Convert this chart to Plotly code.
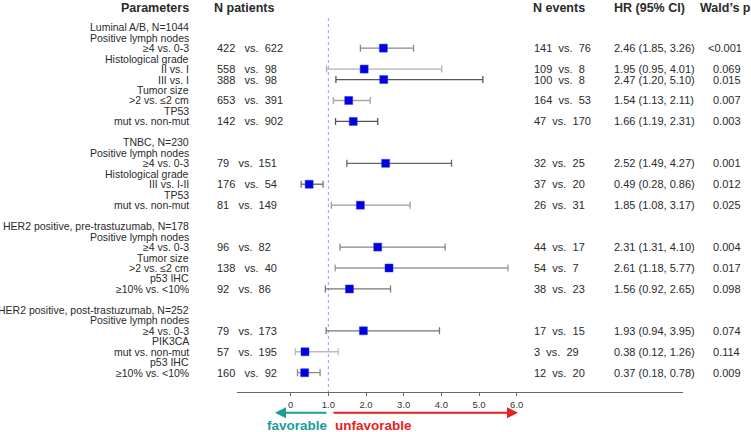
import plotly.graph_objects as go

# ---------------- data ----------------
groups = ["Luminal A/B, N=1044", "TNBC, N=230",
          "HER2 positive, pre-trastuzumab, N=178", "HER2 positive, post-trastuzumab, N=252"]
row_group = [0, 0, 0, 0, 0, 1, 1, 1, 2, 2, 2, 3, 3, 3]
row_variable = ["Positive lymph nodes", "Histological grade", "", "Tumor size", "TP53",
                "Positive lymph nodes", "Histological grade", "TP53",
                "Positive lymph nodes", "Tumor size", "p53 IHC",
                "Positive lymph nodes", "PIK3CA", "p53 IHC"]
row_comparison = ["\u22654 vs. 0-3", "II vs. I", "III vs. I", ">2 vs. \u22642 cm", "mut vs. non-mut",
                  "\u22654 vs. 0-3", "III vs. I-II", "mut vs. non-mut",
                  "\u22654 vs. 0-3", ">2 vs. \u22642 cm", "\u226510% vs. <10%",
                  "\u22654 vs. 0-3", "mut vs. non-mut", "\u226510% vs. <10%"]
n_pat_a = [422, 558, 388, 653, 142, 79, 176, 81, 96, 138, 92, 79, 57, 160]
n_pat_b = [622, 98, 98, 391, 902, 151, 54, 149, 82, 40, 86, 173, 195, 92]
n_evt_a = [141, 109, 100, 164, 47, 32, 37, 26, 44, 54, 38, 17, 3, 12]
n_evt_b = [76, 8, 8, 53, 170, 25, 20, 31, 17, 7, 23, 15, 29, 20]
hr = [2.46, 1.95, 2.47, 1.54, 1.66, 2.52, 0.49, 1.85, 2.31, 2.61, 1.56, 1.93, 0.38, 0.37]
ci_lo = [1.85, 0.95, 1.20, 1.13, 1.19, 1.49, 0.28, 1.08, 1.31, 1.18, 0.92, 0.94, 0.12, 0.18]
ci_hi = [3.26, 4.01, 5.10, 2.11, 2.31, 4.27, 0.86, 3.17, 4.10, 5.77, 2.65, 3.95, 1.26, 0.78]
p_text = ["<0.001", "0.069", "0.015", "0.007", "0.003", "0.001", "0.012", "0.025",
          "0.004", "0.017", "0.098", "0.074", "0.114", "0.009"]
tick_vals = [0, 1, 2, 3, 4, 5, 6]
tick_text = ["0", "1.0", "2.0", "3.0", "4.0", "5.0", "6.0"]
headers = ["Parameters", "N patients", "N events", "HR (95% CI)", "Wald\u2019s p"]

# ---------------- styles ----------------
ci_colors = ["#8a8a8a", "#b0b0b0", "#555555", "#a8a8a8", "#555555",
             "#666666", "#777777", "#999999",
             "#888888", "#9a9a9a", "#777777",
             "#777777", "#bbbbbb", "#888888"]
W, H = 751, 432
FONT = "Liberation Sans, Arial, sans-serif"
TXT = "#2a2a2a"
NB = "\u00a0"

# line layout (index per text line)
lines = []        # (index, text)
data_idx = []
idx = 0
prev_g = None
for i in range(len(hr)):
    g = row_group[i]
    if g != prev_g:
        if prev_g is not None:
            idx += 1
        lines.append((idx, groups[g])); idx += 1
        prev_g = g
    if row_variable[i]:
        lines.append((idx, row_variable[i])); idx += 1
    lines.append((idx, row_comparison[i]))
    data_idx.append(idx)
    idx += 1

# geometry in screen pixels
line_h = 10.47
first_line_px = 27.2
axis_px = 392.3
y_top_idx = -first_line_px / line_h
y_bottom_idx = (axis_px - first_line_px) / line_h
x0_px, xscale = 290.7, 37.67
ax_l, ax_r = 237, 683
x_range = [(ax_l - x0_px) / xscale, (ax_r - x0_px) / xscale]


def px2paper_x(p):
    return p / W


def px2paper_y(p):
    return (H - p) / H


def px2idx(p):
    return (p - first_line_px) / line_h


fig = go.Figure()

# CI lines + HR squares
for i in range(len(hr)):
    fig.add_trace(go.Scatter(
        x=[hr[i]], y=[data_idx[i]], mode="markers",
        marker=dict(symbol="square", size=8, color="#0000dd", line=dict(width=0.5, color="#3333ff")),
        error_x=dict(type="data", symmetric=False, array=[ci_hi[i] - hr[i]],
                     arrayminus=[hr[i] - ci_lo[i]], color=ci_colors[i], thickness=1.3, width=3.5),
        showlegend=False, hoverinfo="skip"))

# reference line at HR = 1
fig.add_shape(type="line", x0=1, x1=1, y0=px2idx(18), y1=y_bottom_idx, xref="x", yref="y",
              line=dict(color="#9a9af2", width=1, dash="dot"), layer="below")

ann = []
# headers
hdr_y = px2paper_y(7.5)
ann.append(dict(x=px2paper_x(191), y=hdr_y, xref="paper", yref="paper", text="<b>%s</b>" % headers[0],
                xanchor="right", yanchor="middle", showarrow=False,
                font=dict(size=12.5, color=TXT, family=FONT)))
for h, px in zip(headers[1:], [212.3, 530.7, 612.3, 698]):
    ann.append(dict(x=px2paper_x(px), y=hdr_y, xref="paper", yref="paper", text="<b>%s</b>" % h,
                    xanchor="left", yanchor="middle", showarrow=False,
                    font=dict(size=12.5, color=TXT, family=FONT)))

# left labels
for li, t in lines:
    ann.append(dict(x=px2paper_x(191), y=li, xref="paper", yref="y", text=t, xanchor="right",
                    yanchor="middle", showarrow=False, font=dict(size=10.5, color=TXT, family=FONT)))

# numeric columns
for i, yi in enumerate(data_idx):
    ann.append(dict(x=px2paper_x(215), y=yi, xref="paper", yref="y",
                    text="%d%svs.%s%d" % (n_pat_a[i], NB * 3, NB * 2, n_pat_b[i]),
                    xanchor="left", yanchor="middle", showarrow=False,
                    font=dict(size=11, color=TXT, family=FONT)))
    ann.append(dict(x=px2paper_x(531.5), y=yi, xref="paper", yref="y",
                    text="%d%svs.%s%d" % (n_evt_a[i], NB * 2, NB * 2, n_evt_b[i]),
                    xanchor="left", yanchor="middle", showarrow=False,
                    font=dict(size=11, color=TXT, family=FONT)))
    ann.append(dict(x=px2paper_x(612.3), y=yi, xref="paper", yref="y",
                    text="%.2f (%.2f, %.2f)" % (hr[i], ci_lo[i], ci_hi[i]),
                    xanchor="left", yanchor="middle", showarrow=False,
                    font=dict(size=11, color=TXT, family=FONT)))
    ann.append(dict(x=px2paper_x(706 if p_text[i].startswith("<") else 710.5), y=yi, xref="paper", yref="y",
                    text=p_text[i], xanchor="left", yanchor="middle", showarrow=False,
                    font=dict(size=11, color=TXT, family=FONT)))

# direction arrows
arrow_y = px2paper_y(412.7)
ann.append(dict(x=(275 - x0_px) / xscale, y=arrow_y, xref="x", yref="paper",
                ax=(328 - x0_px) / xscale, ay=0, axref="x", ayref="pixel",
                text="", showarrow=True, arrowhead=2, arrowsize=1.1, arrowwidth=2, arrowcolor="#1a9e9a"))
ann.append(dict(x=(518 - x0_px) / xscale, y=arrow_y, xref="x", yref="paper",
                ax=(332 - x0_px) / xscale, ay=0, axref="x", ayref="pixel",
                text="", showarrow=True, arrowhead=2, arrowsize=1.1, arrowwidth=2, arrowcolor="#e8211f"))
ann.append(dict(x=px2paper_x(297), y=px2paper_y(425.5), xref="paper", yref="paper",
                text="<b>favorable</b>", xanchor="center", yanchor="middle", showarrow=False,
                font=dict(size=13.5, color="#1a9e9a", family=FONT)))
ann.append(dict(x=px2paper_x(373.5), y=px2paper_y(425.5), xref="paper", yref="paper",
                text="<b>unfavorable</b>", xanchor="center", yanchor="middle", showarrow=False,
                font=dict(size=13.5, color="#e8211f", family=FONT)))

fig.update_layout(
    width=W, height=H, margin=dict(l=0, r=0, t=0, b=0, autoexpand=False),
    paper_bgcolor="white", plot_bgcolor="white",
    annotations=ann,
    xaxis=dict(domain=[px2paper_x(ax_l), px2paper_x(ax_r)], range=x_range, showgrid=False, zeroline=False,
               showline=True, linecolor="#666666", linewidth=1,
               tickmode="array", tickvals=tick_vals, ticktext=tick_text,
               ticks="outside", ticklen=3, tickcolor="#666666",
               tickfont=dict(size=9.5, color="#333333", family=FONT)),
    yaxis=dict(domain=[px2paper_y(axis_px), 1], range=[y_bottom_idx, y_top_idx],
               showgrid=False, zeroline=False, showline=False, showticklabels=False, ticks=""),
)

fig.write_html("out.html", config={"displayModeBar": False},
               post_script="document.body.style.margin='0';")
